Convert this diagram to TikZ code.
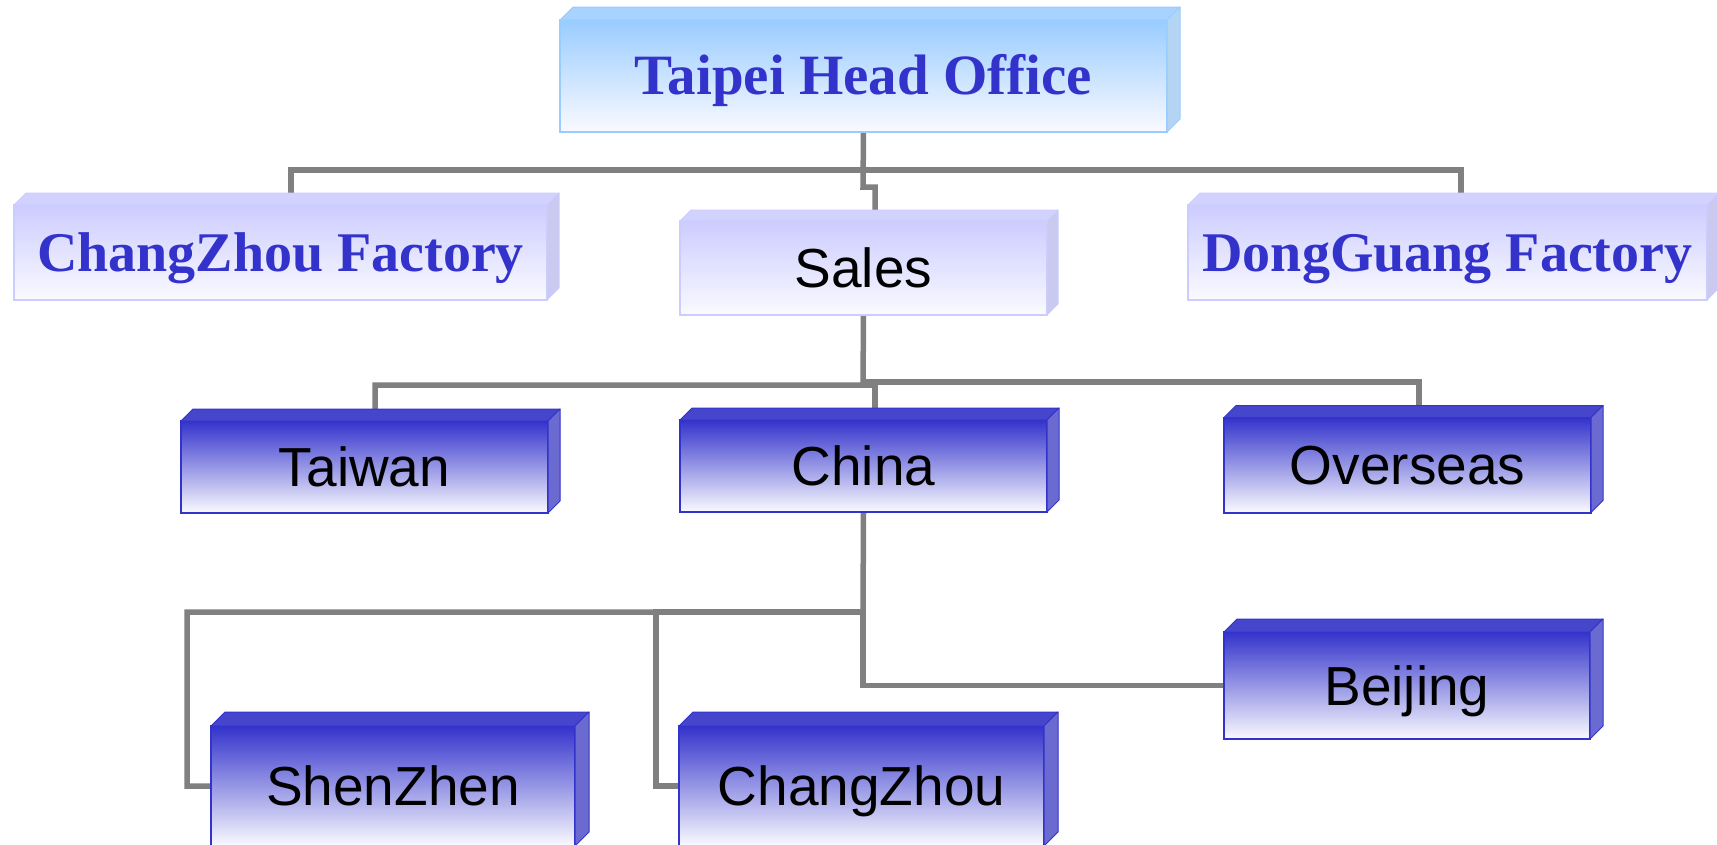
\documentclass[tikz,border=0pt]{standalone}
\usepackage{fontspec}
\setmainfont{Liberation Serif}
\setsansfont{Liberation Sans}
\definecolor{connc}{HTML}{808080}
\definecolor{hqtop}{HTML}{99CCFF}
\definecolor{hqface}{HTML}{A8D2FF}
\definecolor{hqside}{HTML}{B4D4F4}
\definecolor{lavtop}{HTML}{CCCCFF}
\definecolor{lavface}{HTML}{D2D2FF}
\definecolor{lavside}{HTML}{CACAF0}
\definecolor{darktop}{HTML}{3333CC}
\definecolor{darkface}{HTML}{4646CC}
\definecolor{darkside}{HTML}{6A6AD0}
\definecolor{txtblue}{HTML}{3333CC}
\definecolor{paleend}{HTML}{FAFAFF}
\pgfdeclarelayer{connlayer}
\pgfsetlayers{connlayer,main}
\newcommand\bevelbox[5]{%
  \filldraw[fill=#3,draw=#5,line width=1pt,line join=round]
    (#1.north west) -- ++(#2,-#2) -- ([shift={(#2,-#2)}]#1.north east) -- (#1.north east) -- cycle;
  \filldraw[fill=#4,draw=#5,line width=1pt,line join=round]
    (#1.north east) -- ++(#2,-#2) -- ([shift={(#2,-#2)}]#1.south east) -- (#1.south east) -- cycle;
}
\tikzset{
  conn/.style={draw=connc, line width=5.5pt},
  boxbase/.style={rectangle, inner sep=0pt, outer sep=0pt},
  hq/.style={boxbase, draw=hqtop, line width=1.5pt, top color=hqtop, bottom color=paleend,
    font=\fontsize{57}{57}\selectfont\bfseries, text=txtblue, text height=37.7pt, text depth=0pt},
  lavser/.style={boxbase, draw=lavtop, line width=1.5pt, top color=lavtop, bottom color=paleend,
    font=\fontsize{56}{56}\selectfont\bfseries, text=txtblue, text height=37pt, text depth=0pt},
  lavsan/.style={boxbase, draw=lavtop, line width=1.5pt, top color=lavtop, bottom color=paleend,
    font=\sffamily\fontsize{55}{55}\selectfont, text=black, text height=39.4pt, text depth=0pt},
  dark/.style={boxbase, draw=darktop, line width=2pt, top color=darktop, bottom color=paleend,
    font=\sffamily\fontsize{55}{55}\selectfont, text=black, text height=39.4pt, text depth=0pt},
}
\begin{document}
\begin{tikzpicture}[x=1pt,y=-1pt]
\useasboundingbox (0,0) rectangle (1717,844);
\clip (0,0) rectangle (1717,844);

% boxes
\node[hq, minimum width=607pt, minimum height=112pt] (taipei) at (863.5,76) {Taipei Head Office};
\node[lavser, minimum width=533pt, minimum height=95pt] (czf) at (280.5,252.5) {ChangZhou Factory};
\node[lavsan, minimum width=367pt, minimum height=94pt] (sales) at (863.5,268) {Sales};
\node[lavser, minimum width=519pt, minimum height=95pt] (dgf) at (1447.5,252.5) {DongGuang Factory};
\node[dark, minimum width=367pt, minimum height=92pt] (taiwan) at (364.5,467) {Taiwan};
\node[dark, minimum width=367pt, minimum height=92pt] (china) at (863.5,466) {China};
\node[dark, minimum width=367pt, minimum height=95pt] (overseas) at (1407.5,465) {Overseas};
\node[dark, minimum width=366pt, minimum height=107pt] (beijing) at (1407,685.5) {Beijing};
\node[dark, minimum width=364pt, minimum height=120pt] (shenzhen) at (393,786) {ShenZhen};
\node[dark, minimum width=365pt, minimum height=120pt] (changzhou) at (861.5,786) {ChangZhou};

% 3D bevels
\bevelbox{taipei}{13}{hqface}{hqside}{hqtop}
\bevelbox{czf}{12}{lavface}{lavside}{lavtop}
\bevelbox{sales}{11}{lavface}{lavside}{lavtop}
\bevelbox{dgf}{12}{lavface}{lavside}{lavtop}
\bevelbox{taiwan}{12}{darkface}{darkside}{darktop}
\bevelbox{china}{12}{darkface}{darkside}{darktop}
\bevelbox{overseas}{12}{darkface}{darkside}{darktop}
\bevelbox{beijing}{13}{darkface}{darkside}{darktop}
\bevelbox{shenzhen}{14}{darkface}{darkside}{darktop}
\bevelbox{changzhou}{14}{darkface}{darkside}{darktop}

% connectors, behind the boxes
\begin{pgfonlayer}{connlayer}
\fill[white] (0,0) rectangle (1717,844);
\coordinate (h1) at (863,170);
\coordinate (s1) at (863,187);
\coordinate (s2) at (875,187);
\coordinate (h2) at (863,385);
\coordinate (h2r) at (863,382);
\coordinate (c1) at (875,385);
\coordinate (h3) at (863,612);
\coordinate (v1) at (187,612);
\coordinate (v2) at (656,612);
\draw[conn] (taipei.south) -- (s1) -- (s2) -- ([xshift=11.5]sales.north);
\draw[conn] (h1) -| ([xshift=10.5]czf.north);
\draw[conn] (h1) -| ([xshift=13.5]dgf.north);
\draw[conn] (sales.south) -- (h2) -| ([xshift=10.5]taiwan.north);
\draw[conn] (h2r) -| ([xshift=11.5]overseas.north);
\draw[conn] (h2) -- (c1) -- ([xshift=11.5]china.north);
\draw[conn] (china.south) -- (h3) -- (v1) |- (shenzhen.west);
\draw[conn] (h3) -- (v2) |- (changzhou.west);
\draw[conn] (h3) |- (beijing.west);
\end{pgfonlayer}
\end{tikzpicture}
\end{document}
